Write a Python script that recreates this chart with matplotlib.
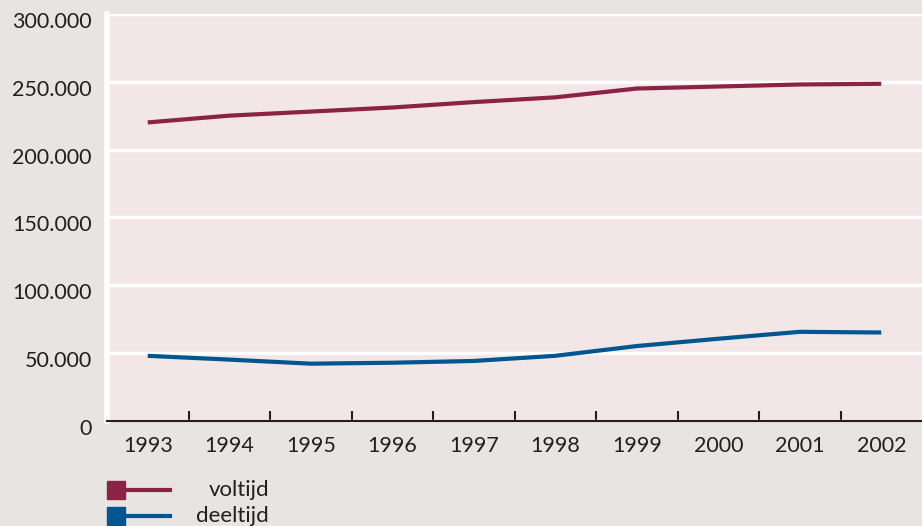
import matplotlib.pyplot as plt
from matplotlib.patches import Rectangle
from matplotlib.lines import Line2D
from matplotlib.ticker import FuncFormatter
from matplotlib.transforms import ScaledTranslation

jaren = ['1993', '1994', '1995', '1996', '1997', '1998', '1999', '2000', '2001', '2002']
voltijd = [220000, 225000, 228000, 231000, 235000, 238500, 245000, 246500, 248000, 248500]
deeltijd = [47800, 45000, 42000, 42700, 44000, 47800, 55000, 60400, 65500, 65000]
reeksen = ['voltijd', 'deeltijd']
kleuren = ['#8b2346', '#00568f']
yticks = [0, 50000, 100000, 150000, 200000, 250000, 300000]

W, H = 922, 526
bg = '#e8e4e2'
tekst = '#231f20'
plt.rcParams['font.family'] = ['Lato', 'DejaVu Sans']
fig = plt.figure(figsize=(W / 100, H / 100), dpi=100, facecolor=bg)
ax = fig.add_axes([107 / W, 1 - 420.6 / H, 1 - 107 / W, (420.6 - 14) / H])
ax.set_facecolor('#f2e6e7')

x = list(range(len(jaren)))
for vals, c in zip([voltijd, deeltijd], kleuren):
    ax.plot(x, vals, color=c, lw=3, solid_capstyle='butt', zorder=3)

ax.set_xlim(-0.5, len(jaren) - 0.5)
ax.set_ylim(0, 300000)
ax.set_yticks(yticks)
ax.yaxis.set_major_formatter(FuncFormatter(lambda v, p: f'{int(v):,}'.replace(',', '.')))
ax.yaxis.grid(True, color='white', lw=2.5)
ax.set_axisbelow(True)
ax.tick_params(axis='y', length=0, pad=11, labelsize=15.5, labelcolor=tekst)
for lab in ax.get_yticklabels():
    lab.set_transform(lab.get_transform() + ScaledTranslation(0, -6 / 100, fig.dpi_scale_trans))

ax.set_xticks(x)
ax.set_xticklabels(jaren)
ax.tick_params(axis='x', which='major', length=0, pad=11, labelsize=15.5, labelcolor=tekst)
ax.set_xticks([i - 0.5 for i in range(len(jaren))], minor=True)
ax.tick_params(axis='x', which='minor', direction='in', length=7, width=1.5, color=tekst)

for s in ['top', 'right']:
    ax.spines[s].set_visible(False)
ax.spines['left'].set_color('white')
ax.spines['left'].set_linewidth(4)
ax.spines['bottom'].set_color(tekst)
ax.spines['bottom'].set_linewidth(1.5)

# legende
for i, (naam, c) in enumerate(zip(reeksen, kleuren)):
    yc = 490 + i * 26
    fig.add_artist(Rectangle((107 / W, 1 - (yc + 9) / H), 18 / W, 18 / H,
                             transform=fig.transFigure, color=c))
    fig.add_artist(Line2D([125 / W, 170 / W], [1 - yc / H, 1 - yc / H],
                          transform=fig.transFigure, color=c, lw=3))
    fig.text(269 / W, 1 - yc / H, naam, ha='right', va='center', fontsize=16, color=tekst)

fig.savefig('out.png', dpi=100, facecolor=bg)
